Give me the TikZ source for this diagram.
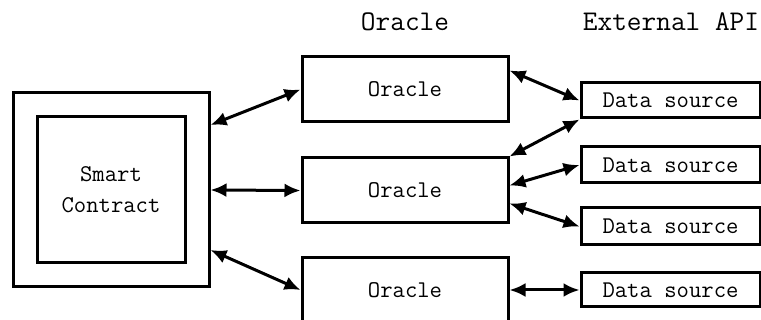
\documentclass[tikz,border=0pt]{standalone}
\usepackage{fontspec}
\usetikzlibrary{arrows.meta,calc}
\tikzset{
  box/.style={draw=black, line width=3pt, inner sep=0pt, font=\fontsize{24}{31}\selectfont\ttfamily, align=center},
  title/.style={inner sep=0pt, font=\fontsize{28.5}{32}\selectfont\ttfamily},
  link/.style={line width=3pt, {Latex[length=16pt,width=14pt]}-{Latex[length=16pt,width=14pt]}}
}
\begin{document}
\begin{tikzpicture}[x=1pt,y=-1pt]
\useasboundingbox (0,0) rectangle (761,320);
\clip (0,0) rectangle (761,320);
% smart contract
\node[box, minimum width=196pt, minimum height=194pt] (sc) at (111,190) {};
\node[box, minimum width=148pt, minimum height=146pt] (sci) at (111,190) {Smart\\Contract};
% oracles
\node[box, minimum width=206pt, minimum height=65pt] (o1) at (405,89.5) {Oracle};
\node[box, minimum width=206pt, minimum height=65pt] (o2) at (405,190.5) {Oracle};
\node[box, minimum width=206pt, minimum height=65pt] (o3) at (405,290) {Oracle};
% data sources
\node[box, minimum width=179pt, minimum height=35pt] (d1) at (670.5,100.5) {Data source};
\node[box, minimum width=179pt, minimum height=36pt] (d2) at (670.5,165) {Data source};
\node[box, minimum width=179pt, minimum height=37pt] (d3) at (670.5,226.5) {Data source};
\node[box, minimum width=179pt, minimum height=34pt] (d4) at (670.5,290) {Data source};
% titles
\node[title] (t1) at (405,22) {Oracle};
\node[title] (t2) at (671,22) {External API};
% links left
\draw[link] ([yshift=65pt]sc.east) -- (o1.west);
\draw[link] (sc.east) -- (o2.west);
\draw[link] ([yshift=-60pt]sc.east) -- (o3.west);
% links right
\draw[link] ([yshift=19pt]o1.east) -- (d1.west);
\draw[link] (d1.south west) -- (o2.north east);
\draw[link] (d2.west) -- ([yshift=5pt]o2.east);
\draw[link] ([yshift=-13pt]o2.east) -- (d3.west);
\draw[link] (o3.east) -- (d4.west);
\end{tikzpicture}
\end{document}
